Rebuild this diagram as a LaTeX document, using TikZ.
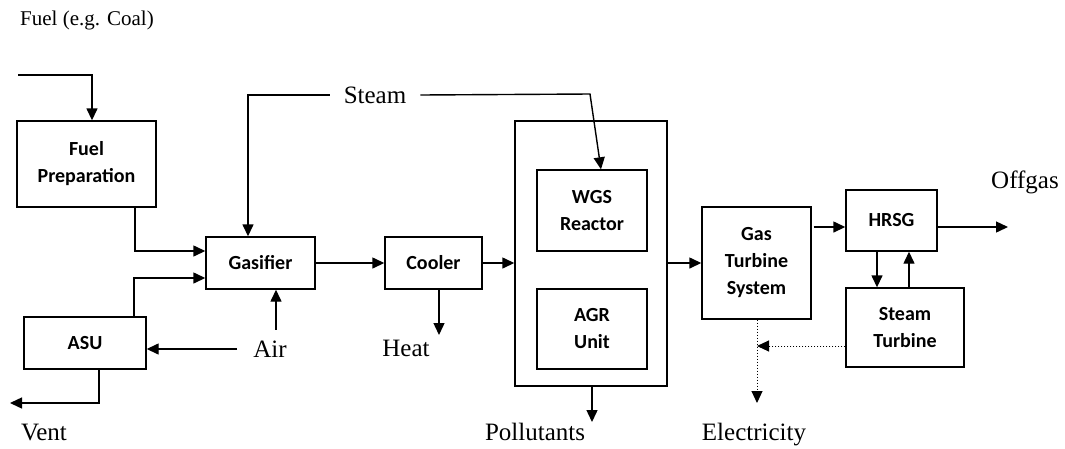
\documentclass[tikz,border=0pt]{standalone}
\usepackage{fontspec}
\setmainfont{Liberation Serif}
\newfontfamily\boxfont{Carlito}
\usetikzlibrary{arrows.meta}

\begin{document}
\begin{tikzpicture}[x=1pt,y=-1pt,>={Triangle[length=12pt,width=11pt]},
  unit/.style={rectangle,draw=black,line width=1.4pt,text=black,align=center,
    inner sep=0pt,font=\boxfont\bfseries\fontsize{20}{27}\selectfont},
  stream/.style={inner sep=0pt,font=\fontsize{25}{30}\selectfont},
  flow/.style={->,line width=1.4pt},
  power/.style={->,line width=1pt,dotted}]
\useasboundingbox (0,0) rectangle (1065,448);
% process units
\node[unit,minimum width=139pt,minimum height=86pt] (fuelprep) at (86.5,164) {Fuel\\Preparation};
\node[unit,minimum width=109pt,minimum height=52pt] (gasifier) at (260.5,263) {Gasifier};
\node[unit,minimum width=122pt,minimum height=52pt] (asu) at (85,343) {ASU};
\node[unit,minimum width=97pt,minimum height=52pt] (cooler) at (433.5,263) {Cooler};
\node[unit,minimum width=152pt,minimum height=265pt] (cleanup) at (591,253.5) {};
\node[unit,minimum width=110pt,minimum height=81pt] (wgs) at (592,210.5) {WGS\\Reactor};
\node[unit,minimum width=110pt,minimum height=80pt] (agr) at (592,329) {AGR\\Unit};
\node[unit,minimum width=109pt,minimum height=112pt] (gasturb) at (756.5,263) {Gas\\Turbine\\System};
\node[unit,minimum width=91pt,minimum height=61pt] (hrsg) at (891.5,220.5) {HRSG};
\node[unit,minimum width=118pt,minimum height=79pt] (steamturb) at (905,327.5) {Steam\\Turbine};
% stream labels
\node[stream,anchor=base,font=\fontsize{21}{25}\selectfont] (fuel) at (87,25) {Fuel (e.g. Coal)};
\node[stream,inner xsep=14pt] (steam) at (375,95) {Steam};
\node[stream,inner xsep=16pt,inner ysep=11pt] (air) at (270,349) {Air};
\node[stream,anchor=base] (vent) at (44,440) {Vent};
\node[stream,anchor=base] (heat) at (406,356) {Heat};
\node[stream,anchor=base] (pollutants) at (535,440) {Pollutants};
\node[stream,anchor=base] (electricity) at (754,440) {Electricity};
\node[stream,anchor=base] (offgas) at (1025,188) {Offgas};
% free ends
\coordinate (fuelin) at (18,75);
\coordinate (ventend) at (10,403);
\coordinate (steambend) at (590,94);
\coordinate (heatend) at (439,335);
\coordinate (pollend) at (592,422);
\coordinate (offgasend) at (1008,227);
\coordinate (elecjoin) at (757,346);
\coordinate (elecend) at (757,403);
% connectors
\draw[flow] (fuelin) -| ([xshift=5.5pt]fuelprep.north);
\draw[flow] ([xshift=48.5pt]fuelprep.south) |- ([yshift=12pt]gasifier.west);
\draw[flow] ([xshift=49pt]asu.north) |- ([yshift=-15pt]gasifier.west);
\draw[flow] (steam.west) -| ([xshift=-12.5pt]gasifier.north);
\draw[flow] (steam.east) -- (steambend) -- ([xshift=9pt]wgs.north);
\draw[flow] ([xshift=15.5pt]gasifier.south |- air.north) -- ([xshift=15.5pt]gasifier.south);
\draw[flow] (air.west) -- (air.west -| asu.east);
\draw[flow] ([xshift=14pt]asu.south) |- (ventend);
\draw[flow] (gasifier) -- (cooler);
\draw[flow] (cooler.east) -- (cooler.east -| cleanup.west);
\draw[flow] (heatend |- cooler.south) -- (heatend);
\draw[flow] (pollend |- cleanup.south) -- (pollend);
\draw[flow] (gasturb.west -| cleanup.east) -- (gasturb.west);
\draw[flow] ([yshift=-6.5pt,xshift=2pt]hrsg.west -| gasturb.east) -- ([yshift=-6.5pt]hrsg.west);
\draw[flow] ([yshift=-6.5pt]hrsg.east) -- (offgasend);
\draw[flow] ([xshift=-14.5pt]hrsg.south) -- ([xshift=-14.5pt]hrsg.south |- steamturb.north);
\draw[flow] ([xshift=17.5pt]hrsg.south |- steamturb.north) -- ([xshift=17.5pt]hrsg.south);
\draw[power] (elecjoin -| steamturb.west) -- (elecjoin);
\draw[power] (elecjoin |- gasturb.south) -- (elecend);
\end{tikzpicture}
\end{document}
